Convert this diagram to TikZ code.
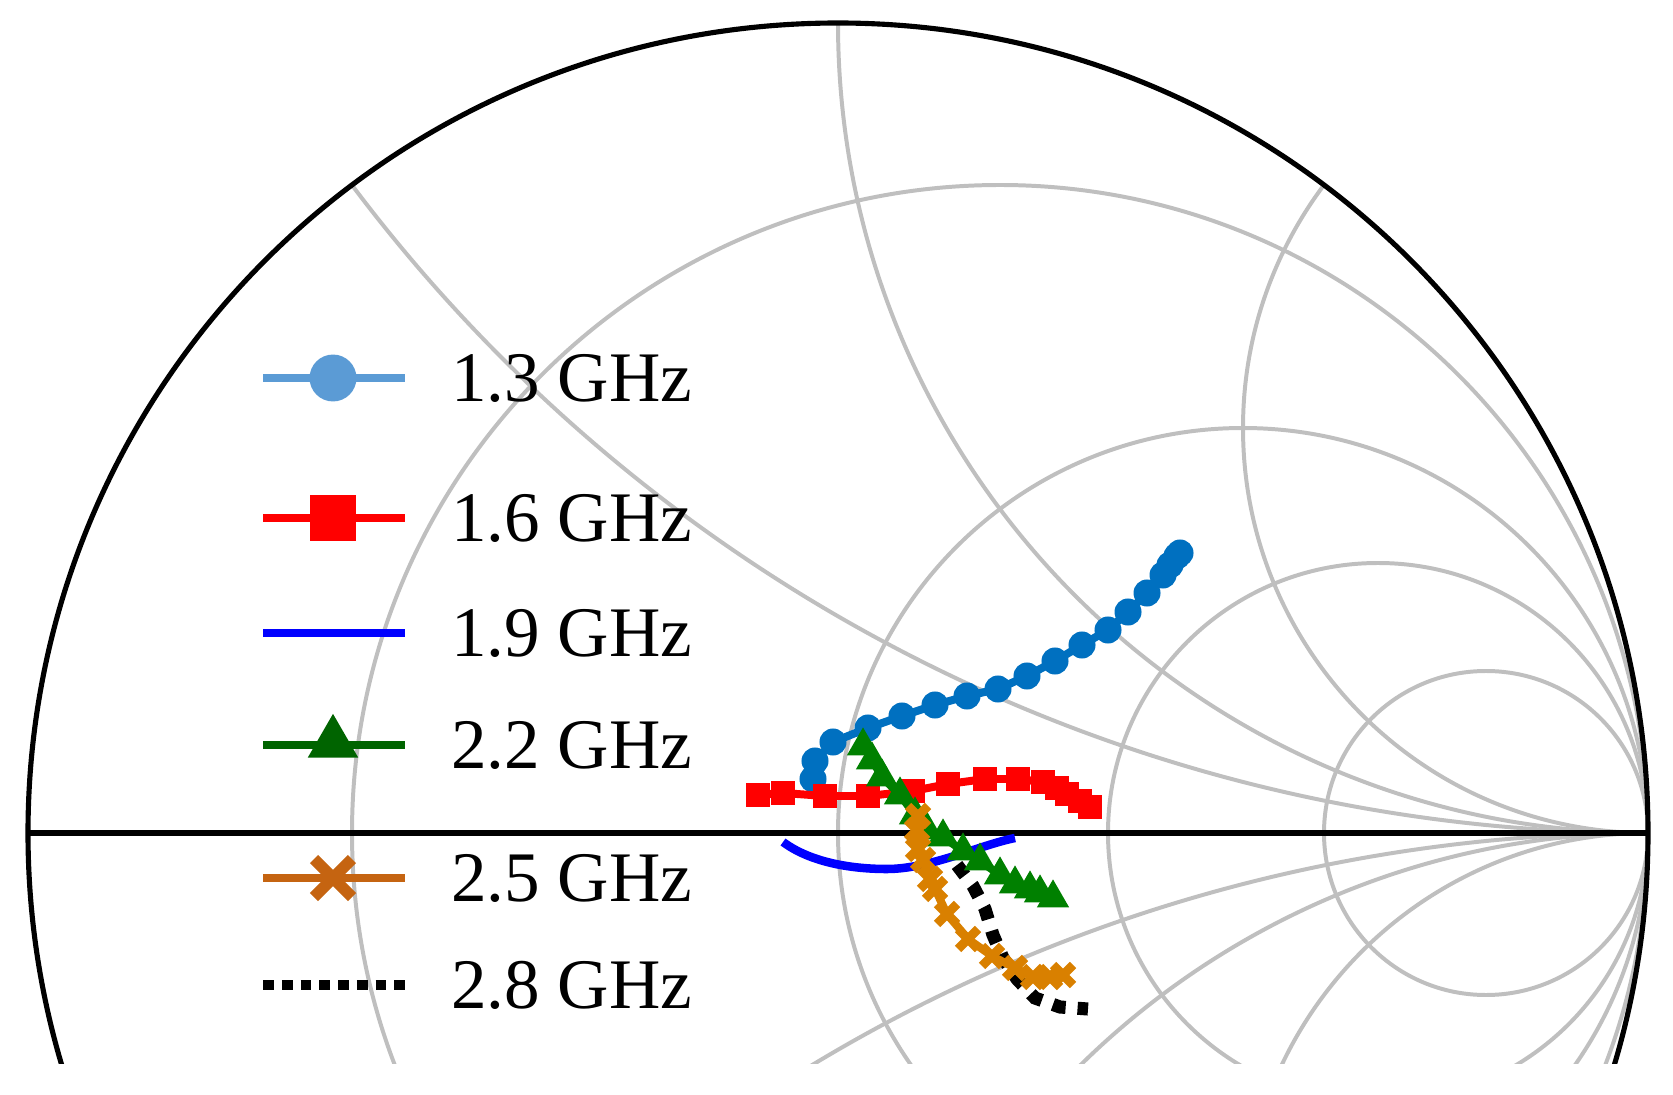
\documentclass[tikz,border=0pt]{standalone}
\usepackage{fontspec}
\setmainfont{Liberation Serif}
\usetikzlibrary{shapes.geometric}
\definecolor{gridc}{RGB}{191,191,191}
\definecolor{bluec}{RGB}{0,112,192}
\definecolor{lbluec}{RGB}{91,155,213}
\definecolor{redc}{RGB}{255,0,0}
\definecolor{blue2c}{RGB}{0,0,255}
\definecolor{greenc}{RGB}{0,128,0}
\definecolor{dgreenc}{RGB}{0,100,0}
\definecolor{orangec}{RGB}{217,128,0}
\definecolor{dorangec}{RGB}{197,100,17}
\tikzset{
 gridline/.style={draw=gridc,line width=0.7pt},
 dataline/.style={line width=1.4pt},
 circmark/.style={circle,fill=#1,inner sep=0pt,minimum size=0.167cm},
 sqmark/.style={rectangle,fill=#1,inner sep=0pt,minimum size=0.15cm},
 trimark/.style={regular polygon,regular polygon sides=3,fill=#1,inner sep=0pt,minimum size=0.23cm},
 legtext/.style={anchor=west,font=\fontsize{12.5}{14}\selectfont,inner sep=0pt},
}
\begin{document}
\begin{tikzpicture}[x=0.006173cm,y=-0.006173cm]
\useasboundingbox (0,0) rectangle (1673,1095);
% grid
\begin{scope}
\clip (838,833) circle [radius=810];
\clip (0,0) rectangle (1673,1063);
\foreach \r in {0.25,1,2,4}{
  \draw[gridline] ({838+810*\r/(\r+1)},833) circle [radius={810/(\r+1)}];
}
\foreach \xx in {0.5,1,2,-0.5,-1,-2}{
  \draw[gridline] (1648,{833-810/\xx}) circle [radius={810/abs(\xx)}];
}
\end{scope}
\begin{scope}
\clip (0,0) rectangle (1673,1063);
\draw[line width=0.9pt] (838,833) circle [radius=810];
\end{scope}
\coordinate (axl) at (28,833);
\coordinate (axr) at (1647,833);
\draw[line width=0.9pt] (axl) -- (axr);
% 1.3 GHz
\draw[bluec,dataline] (813,779) -- (815,761) -- (833,742) -- (868,728) -- (902,716) -- (935,705) -- (967,696) -- (998,689) -- (1027,676) -- (1055,661) -- (1082,645) -- (1108,630) -- (1128,612) -- (1147,593) -- (1163,575) -- (1170,565) -- (1177,556) -- (1180,553);
\foreach \p in {(813,779),(815,761),(833,742),(868,728),(902,716),(935,705),(967,696),(998,689),(1027,676),(1055,661),(1082,645),(1108,630),(1128,612),(1147,593),(1163,575),(1170,565),(1177,556),(1180,553)}
  \node[circmark=bluec] at \p {};
% 1.6 GHz
\draw[redc,dataline] (758,795) -- (783,793) -- (825,796) -- (868,796) -- (913,791) -- (948,784) -- (985,779) -- (1018,779) -- (1043,782) -- (1057,788) -- (1067,794) -- (1080,801) -- (1090,807);
\foreach \p in {(758,795),(783,793),(825,796),(868,796),(913,791),(948,784),(985,779),(1018,779),(1043,782),(1057,788),(1067,794),(1080,801),(1090,807)}
  \node[sqmark=redc] at \p {};
% 1.9 GHz
\draw[blue2c,line width=1.5pt] (783,842) .. controls (810,862) and (850,869) .. (887,869) .. controls (930,869) and (980,845) .. (1015,838);
% 2.8 GHz
\draw[black,line width=2.3pt,dash pattern=on 2.3pt off 2.1pt] (957,865) -- (973,886) -- (985,909) -- (993,935) -- (1003,958) -- (1017,979) -- (1035,998) -- (1060,1007) -- (1088,1009);
% 2.2 GHz
\draw[greenc,dataline] (863,746) -- (872,760) -- (882,777) -- (900,795) -- (915,815) -- (927,830) -- (943,837) -- (963,851) -- (980,861) -- (1000,875) -- (1015,884) -- (1030,889) -- (1040,893) -- (1053,898);
\foreach \p in {(863,746),(872,760),(882,777),(900,795),(915,815),(927,830),(943,837),(963,851),(980,861),(1000,875),(1015,884),(1030,889),(1040,893),(1053,898)}
  \node[trimark=greenc] at \p {};
% 2.5 GHz
\draw[orangec,dataline] (918,816) -- (917,830) -- (918,849) -- (923,860) -- (930,879) -- (935,889) -- (947,914) -- (968,939) -- (992,956) -- (1015,968) -- (1033,977) -- (1050,977) -- (1063,975);
\foreach \p in {(918,816),(917,830),(918,849),(923,860),(930,879),(935,889),(947,914),(968,939),(992,956),(1015,968),(1033,977),(1050,977),(1063,975)}
  \draw[orangec,line width=1.6pt] \p +(-10,-10) -- +(10,10) \p +(-10,10) -- +(10,-10);
% legend
\draw[lbluec,line width=1.5pt] (263,378) -- (405,378);
\node[circle,fill=lbluec,inner sep=0pt,minimum size=0.29cm] (m1) at (333,378) {};
\node[legtext] (t1) at (450,378) {1.3 GHz};
\draw[redc,line width=1.5pt] (263,518) -- (405,518);
\node[rectangle,fill=redc,inner sep=0pt,minimum size=0.29cm] (m2) at (333,518) {};
\node[legtext] (t2) at (450,518) {1.6 GHz};
\draw[blue2c,line width=1.5pt] (263,633) -- (405,633);
\node[legtext] (t3) at (450,633) {1.9 GHz};
\draw[dgreenc,line width=1.5pt] (263,745) -- (405,745);
\node[regular polygon,regular polygon sides=3,fill=dgreenc,inner sep=0pt,minimum size=0.36cm] (m4) at (333,743) {};
\node[legtext] (t4) at (450,745) {2.2 GHz};
\draw[dorangec,line width=1.5pt] (263,878) -- (405,878);
\draw[dorangec,line width=2pt] (333,878) +(-19,-19) -- +(19,19) (333,878) +(-19,19) -- +(19,-19);
\node[legtext] (t5) at (450,878) {2.5 GHz};
\draw[black,line width=1.9pt,dash pattern=on 1.9pt off 1.4pt] (263,985) -- (405,985);
\node[legtext] (t6) at (450,985) {2.8 GHz};
\end{tikzpicture}
\end{document}
